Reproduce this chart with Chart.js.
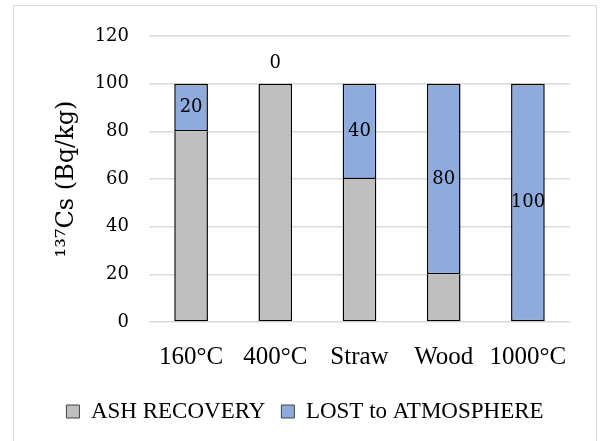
<!DOCTYPE html>
<html>
<head>
<meta charset="utf-8">
<script src="https://cdn.jsdelivr.net/npm/chart.js@4.4.0/dist/chart.umd.min.js"></script>
<style>
  html, body { margin: 0; padding: 0; background: #fff; }
  #wrap { position: absolute; left: 0; top: 0; width: 600px; height: 441px; }
  #frame { position: absolute; left: 13px; top: 5px; width: 584px; height: 440px; border: 1.5px solid #d9d9d9; box-sizing: border-box; }
  canvas { position: absolute; left: 0; top: 0; }
</style>
</head>
<body>
<div id="wrap">
  <div id="frame"></div>
  <canvas id="mycanvas" width="600" height="441"></canvas>
</div>
<script>
var categories = ["160°C", "400°C", "Straw", "Wood", "1000°C"];
var ashRecovery = [80, 100, 60, 20, 0];
var lostToAtmosphere = [20, 0, 40, 80, 100];
var yTicks = [0, 20, 40, 60, 80, 100, 120];

// labels for the "lost" series, centred in each segment
var segmentLabels = {
  id: "segmentLabels",
  afterDatasetsDraw: function(chart) {
    var ctx = chart.ctx;
    var meta = chart.getDatasetMeta(1);
    ctx.save();
    ctx.font = "18px 'DejaVu Serif'";
    ctx.fillStyle = "#000";
    ctx.textAlign = "center";
    ctx.textBaseline = "middle";
    meta.data.forEach(function(bar, i) {
      var v = lostToAtmosphere[i];
      var y = v === 0 ? bar.y - 20 : (bar.y + bar.base) / 2;
      ctx.fillText(String(v), bar.x, y);
    });
    ctx.restore();
  }
};

var chartdata = {
  labels: categories,
  datasets: [
    {
      label: "ASH RECOVERY",
      backgroundColor: "#bfbfbf",
      borderColor: "#000",
      // no top edge where the blue segment sits on it (avoids a double line)
      borderWidth: function(c) {
        var top = lostToAtmosphere[c.dataIndex] > 0 ? 0 : 1.5;
        return { top: top, left: 1.5, right: 1.5, bottom: 1.5 };
      },
      borderSkipped: false,
      data: ashRecovery
    },
    {
      label: "LOST to ATMOSPHERE",
      backgroundColor: "#8faadc",
      borderColor: "#000",
      borderWidth: 1.5,
      borderSkipped: false,
      data: lostToAtmosphere
    }
  ]
};

var ctx = document.getElementById("mycanvas");

var BarGraph = new Chart(ctx, {
  type: "bar",
  data: chartdata,
  plugins: [segmentLabels],
  options: {
    responsive: false,
    animation: false,
    barPercentage: 0.4,
    categoryPercentage: 1,
    layout: { padding: { left: 40, right: 30, top: 36, bottom: 8 } },
    plugins: {
      tooltip: { enabled: false },
      legend: {
        position: "bottom",
        labels: {
          boxWidth: 13,
          boxHeight: 13,
          padding: 16,
          color: "#000",
          font: { family: "'Liberation Serif'", size: 23 },
          generateLabels: function(chart) {
            var items = Chart.defaults.plugins.legend.labels.generateLabels(chart);
            items.forEach(function(it) {
              it.lineWidth = 1;
              it.strokeStyle = "#404040";
            });
            return items;
          }
        }
      }
    },
    scales: {
      x: {
        stacked: true,
        grid: { display: false },
        border: { display: false },
        ticks: {
          color: "#000",
          padding: 12,
          maxRotation: 0,
          font: { family: "'Liberation Serif'", size: 25 }
        }
      },
      y: {
        stacked: true,
        min: 0,
        max: 120,
        afterFit: function(scale) { scale.width = 109; },
        afterBuildTicks: function(scale) {
          scale.ticks = yTicks.map(function(v) { return { value: v }; });
        },
        grid: { color: "#d9d9d9", lineWidth: 1.5, drawTicks: false },
        border: { display: false },
        ticks: {
          color: "#000",
          padding: 20,
          font: { family: "'DejaVu Serif'", size: 18 }
        },
        title: {
          display: true,
          text: "¹³⁷Cs (Bq/kg)",
          color: "#000",
          padding: { top: 12, bottom: 0 },
          font: { family: "'DejaVu Serif'", size: 24 }
        }
      }
    }
  }
});
</script>
</body>
</html>
